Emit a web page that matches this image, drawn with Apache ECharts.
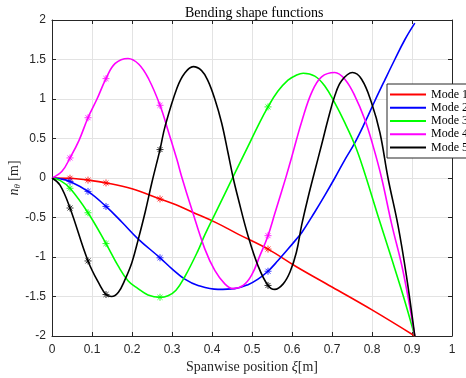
<!DOCTYPE html>
<html>
<head>
<meta charset="utf-8">
<script src="https://cdn.jsdelivr.net/npm/echarts@6/dist/echarts.min.js"></script>
<style>
  html, body { margin: 0; padding: 0; background: #fff; }
  #chart { width: 466px; height: 378px; }
</style>
</head>
<body>
<div id="chart"></div>
<script>
// mode shapes: spanwise position and deflection
const mode1X = [0, 0.045, 0.09, 0.135, 0.2, 0.27, 0.31, 0.35, 0.41, 0.465, 0.54, 0.61, 0.7, 0.8, 0.907];
const mode1Y = [0, -0.003, -0.027, -0.062, -0.137, -0.265, -0.34, -0.43, -0.565, -0.71, -0.9, -1.12, -1.38, -1.67, -2];

const mode2X = [0, 0.02, 0.045, 0.09, 0.135, 0.175, 0.215, 0.27, 0.3, 0.332, 0.365, 0.415, 0.457, 0.49,
                0.515, 0.54, 0.565, 0.59, 0.61, 0.625, 0.657, 0.682, 0.707, 0.732, 0.757, 0.782, 0.807,
                0.832, 0.857, 0.882, 0.907];
const mode2Y = [0, -0.01, -0.044, -0.17, -0.36, -0.56, -0.77, -1.01, -1.15, -1.28, -1.36, -1.41, -1.4, -1.35,
                -1.28, -1.18, -1.045, -0.9, -0.78, -0.686, -0.43, -0.22, 0, 0.23, 0.445, 0.7, 0.975,
                1.24, 1.5, 1.75, 1.96];

const mode3X = [0, 0.02, 0.045, 0.09, 0.135, 0.165, 0.19, 0.215, 0.24, 0.27, 0.29, 0.31, 0.332, 0.365,
                0.382, 0.407, 0.432, 0.455, 0.49, 0.515, 0.54, 0.565, 0.59, 0.61, 0.628, 0.657, 0.682,
                0.707, 0.732, 0.757, 0.778, 0.815, 0.849, 0.878, 0.907];
const mode3Y = [0, -0.03, -0.13, -0.44, -0.83, -1.11, -1.3, -1.4, -1.48, -1.51, -1.49, -1.42, -1.25, -0.92,
                -0.72, -0.46, -0.2, 0.04, 0.4, 0.66, 0.9, 1.1, 1.24, 1.3, 1.326, 1.29, 1.165,
                0.95, 0.7, 0.42, 0.12, -0.48, -1.02, -1.49, -2];

const mode4X = [0, 0.025, 0.045, 0.067, 0.09, 0.1125, 0.135, 0.158, 0.19, 0.217, 0.242, 0.27, 0.292,
                0.3125, 0.324, 0.349, 0.382, 0.407, 0.432, 0.453, 0.478, 0.499, 0.52, 0.54, 0.557,
                0.574, 0.586, 0.599, 0.611, 0.624, 0.649, 0.674, 0.707, 0.732, 0.757, 0.782, 0.803,
                0.824, 0.849, 0.878, 0.907];
const mode4Y = [0, 0.085, 0.254, 0.47, 0.763, 1.0, 1.258, 1.45, 1.513, 1.44, 1.25, 0.92, 0.57,
                0.23, 0.02, -0.39, -0.897, -1.17, -1.34, -1.4, -1.36, -1.23, -0.98, -0.73, -0.45,
                -0.17, 0.03, 0.26, 0.48, 0.71, 1.08, 1.28, 1.335, 1.25, 1.04, 0.74, 0.4,
                0, -0.58, -1.19, -2];

const mode5X = [0, 0.02, 0.045, 0.09, 0.12, 0.135, 0.149, 0.166, 0.183, 0.2, 0.216, 0.233, 0.25, 0.27,
                0.283, 0.3125, 0.332, 0.353, 0.374, 0.39, 0.407, 0.424, 0.44, 0.453, 0.465, 0.49, 0.515,
                0.54, 0.557, 0.578, 0.595, 0.611, 0.624, 0.64, 0.656, 0.674, 0.69, 0.707, 0.724, 0.751,
                0.774, 0.799, 0.82, 0.84, 0.865, 0.886, 0.907];
const mode5Y = [0, -0.09, -0.38, -1.05, -1.36, -1.475, -1.5, -1.445, -1.28, -1.065, -0.77, -0.43, -0.05, 0.36,
                0.66, 1.14, 1.33, 1.41, 1.36, 1.23, 1.0, 0.7, 0.32, 0, -0.25, -0.73, -1.11,
                -1.36, -1.41, -1.34, -1.19, -0.94, -0.6, -0.25, 0.07, 0.42, 0.74, 1.04, 1.23, 1.335,
                1.25, 0.95, 0.57, 0, -0.6, -1.235, -2];

// positions carrying '*' markers
const markerX = [0.045, 0.09, 0.135, 0.27, 0.54];

const modeNames = ['Mode 1', 'Mode 2', 'Mode 3', 'Mode 4', 'Mode 5'];
const modeXs = [mode1X, mode2X, mode3X, mode4X, mode5X];
const modeYs = [mode1Y, mode2Y, mode3Y, mode4Y, mode5Y];
const modeColors = ['#ff0000', '#0000ff', '#00ff00', '#ff00ff', '#000000'];

const asterisk = 'path://M0,-10L0,10M-10,0L10,0M-7.07,-7.07L7.07,7.07M-7.07,7.07L7.07,-7.07';

const chart = echarts.init(document.getElementById('chart'));

const axisCol = '#262626';
const tickFont = { color: axisCol, fontSize: 12, fontFamily: 'Liberation Sans, Arial, sans-serif' };
const serif = 'Liberation Serif, Times New Roman, serif';

let series = [];
modeYs.forEach((ys, k) => {
    const xs = modeXs[k];
    series.push({
        name: modeNames[k],
        type: 'line',
        smooth: 0.4,
        showSymbol: false,
        data: xs.map((x, i) => [x, ys[i]]),
        lineStyle: { color: modeColors[k], width: 1.6 },
        itemStyle: { color: modeColors[k] },
        z: 3 + k
    });
    series.push({
        type: 'scatter',
        symbol: asterisk,
        symbolSize: 7,
        data: markerX.map(mx => [mx, ys[xs.indexOf(mx)]]),
        itemStyle: { color: 'none', borderColor: modeColors[k], borderWidth: 1 },
        silent: true,
        z: 3 + k
    });
});

const option = {
    animation: false,
    backgroundColor: '#fff',
    title: {
        text: 'Bending shape functions',
        left: 180,
        top: 1,
        textStyle: { fontFamily: serif, fontSize: 14, fontWeight: 'normal', color: '#000' }
    },
    legend: {
        orient: 'vertical',
        left: 387,
        top: 84,
        data: modeNames,
        icon: 'rect',
        itemWidth: 36,
        itemHeight: 2,
        itemGap: 0,
        padding: [4, 30, 4, 3],
        backgroundColor: '#fff',
        borderColor: axisCol,
        borderWidth: 1,
        borderRadius: 0,
        textStyle: { fontFamily: serif, fontSize: 12, color: '#000', lineHeight: 13.2 }
    },
    grid: { left: 52, right: 14, top: 20, bottom: 42, outerBoundsMode: 'none', containLabel: false },
    xAxis: [{
        type: 'value', min: 0, max: 1, interval: 0.1,
        name: 'Spanwise position {i|ξ}[m]',
        nameLocation: 'middle', nameGap: 24, nameMoveOverlap: false,
        nameTextStyle: {
            fontFamily: serif, fontSize: 14, color: axisCol,
            rich: { i: { fontFamily: serif, fontSize: 14, fontStyle: 'italic', color: axisCol } }
        },
        axisLine: { onZero: false, lineStyle: { color: axisCol, width: 1 } },
        axisTick: { inside: true, length: 4, lineStyle: { color: axisCol } },
        axisLabel: Object.assign({ margin: 8 }, tickFont),
        splitLine: { show: true, lineStyle: { color: '#e3e3e3', width: 1 } }
    }, {
        type: 'value', min: 0, max: 1, interval: 0.1, position: 'top',
        axisLine: { show: true, onZero: false, lineStyle: { color: axisCol, width: 1 } },
        axisTick: { inside: true, length: 4, lineStyle: { color: axisCol } },
        axisLabel: { show: false },
        splitLine: { show: false }
    }],
    yAxis: [{
        type: 'value', min: -2, max: 2, interval: 0.5,
        name: '{i|n}{s|θ} [m]',
        nameLocation: 'middle', nameGap: 30, nameRotate: 90, nameMoveOverlap: false,
        nameTextStyle: {
            fontFamily: serif, fontSize: 14, color: axisCol,
            rich: {
                i: { fontFamily: serif, fontSize: 14, fontStyle: 'italic', color: axisCol },
                s: { fontFamily: serif, fontSize: 9, fontStyle: 'italic', color: axisCol, verticalAlign: 'bottom', padding: [6, 0, 0, 0] }
            }
        },
        axisLine: { show: true, onZero: false, lineStyle: { color: axisCol, width: 1 } },
        axisTick: { show: true, inside: true, length: 4, lineStyle: { color: axisCol } },
        axisLabel: Object.assign({ margin: 6 }, tickFont),
        splitLine: { show: true, lineStyle: { color: '#e3e3e3', width: 1 } }
    }, {
        type: 'value', min: -2, max: 2, interval: 0.5, position: 'right',
        axisLine: { show: true, onZero: false, lineStyle: { color: axisCol, width: 1 } },
        axisTick: { show: true, inside: true, length: 4, lineStyle: { color: axisCol } },
        axisLabel: { show: false },
        splitLine: { show: false }
    }],
    series: series
};

chart.setOption(option);
</script>
</body>
</html>
